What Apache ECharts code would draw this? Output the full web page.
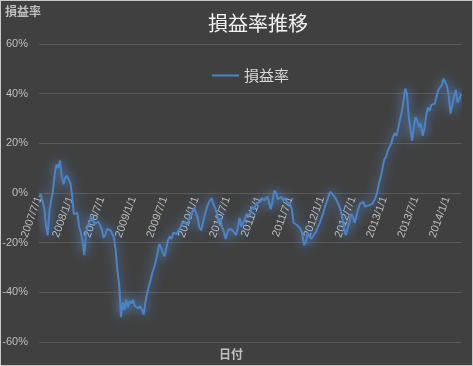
<!DOCTYPE html>
<html>
<head>
<meta charset="utf-8">
<script src="https://cdn.jsdelivr.net/npm/echarts@6/dist/echarts.min.js"></script>
<style>
html,body{margin:0;padding:0;background:#404040;}
#c{width:473px;height:366px;box-sizing:border-box;border:1px solid #c8c8c8;}
</style>
</head>
<body>
<div id="c"></div>
<script>
// Chart texts
const titleText = '損益率推移';
const seriesName = '損益率';
const yAxisTitle = '損益率';
const xAxisTitle = '日付';

// Y-axis ticks (percent)
const yMin = -60, yMax = 60, yStep = 20;

// Shown x tick labels
const xTickLabels = ['2007/7/1','2008/1/1','2008/7/1','2009/1/1','2009/7/1','2010/1/1','2010/7/1',
  '2011/1/1','2011/7/1','2012/1/1','2012/7/1','2013/1/1','2013/7/1','2014/1/1'];

// Dates (1st, 11th, 21st of each month, 2007/7/1 - 2014/3/21)
const dates = [];
for (let y = 2007; y <= 2014; y++) {
  for (let m = 1; m <= 12; m++) {
    if (y === 2007 && m < 7) continue;
    if (y === 2014 && m > 3) continue;
    for (const d of [1, 11, 21]) dates.push(y + '/' + m + '/' + d);
  }
}

// Profit/loss rate (%)
const values = [
  -1.5,-0.5,-1,-6,-13,-17,-7,-3,1,7.5,
  11.5,10,13,7,3.5,6,7,7.5,4,-1,
  -8.5,-9,-8,-13.5,-16,-19.5,-25,-16,-13,-11.5,
  -9.5,-10,-12.5,-13,-11.5,-12,-14.5,-18,-17,-14.5,
  -14,-15,-14.5,-18,-23.5,-31.5,-37,-50,-44,-47,
  -43,-46,-43.5,-44.5,-43,-45.5,-45,-46.5,-45.5,-47,
  -49,-44,-40.5,-37.5,-35,-32,-30,-27.5,-24,-20.5,
  -22,-24,-25.5,-25,-19,-17.5,-18.5,-16,-16.5,-16.5,
  -15,-14,-12,-11.5,-12,-13,-10.5,-9,-7.5,-6,
  -6.5,-10,-14,-15,-12,-9,-6.5,-4.5,-3,-2,
  -4.5,-6,-8,-12,-10,-14,-15.5,-18.5,-16,-14.5,
  -15,-15,-15.5,-17,-14,-10,-13.5,-12,-10.5,-8.5,
  -8,-9,-5.5,-6.5,-6.5,-4,-3.5,-3.5,-2,-3,
  -3,-1.5,-2,-6.5,-3,1,0,-2.5,-2,-1.5,
  -3,-2,-3.5,-4,-4.5,-6.5,-12,-11.5,-13,-13.5,
  -14.5,-16.5,-21,-20,-16,-17,-18.5,-17.5,-17.5,-15.5,
  -13.5,-12,-10,-8,-5.5,-3.5,-1.5,0.5,1,-1,
  -2,-3.5,-5,-7,-10,-14.5,-17,-14,-12,-8.5,
  -9.5,-12,-9.5,-6.5,-4.5,-5,-3.5,-5.5,-6,-5,
  -4.5,-4.5,-5,-2,0.5,4,6.5,10,13.5,14.5,
  17,18.5,20,22.5,24,23,26,29.5,32.5,37,
  42,40,31,25.5,21,27,30.5,29,26.5,28,
  23,26,31,34.5,33,35.5,36,36,39,41.5,
  42,43.5,46,45.5,43,39,32,35.5,39,41.5,
  36.5,37.5,40
];

const chart = echarts.init(document.getElementById('c'), null, {renderer: 'canvas'});
const fontFam = '"Liberation Sans", "Noto Sans CJK JP", sans-serif';
const cjkFont = '"Noto Sans CJK JP", "Liberation Sans", sans-serif';

chart.setOption({
  backgroundColor: '#404040',
  animation: false,
  title: {
    text: titleText,
    left: 252, top: 7, textAlign: 'center',
    textStyle: {color: '#f2f2f2', fontSize: 20, fontWeight: 'normal', fontFamily: cjkFont}
  },
  legend: {
    data: [{name: seriesName, icon: 'rect'}],
    left: 206, top: 62,
    itemWidth: 27, itemHeight: 2, itemGap: 4,
    textStyle: {color: '#d9d9d9', fontSize: 15, fontFamily: cjkFont}
  },
  graphic: [
    {type: 'text', left: 4, top: 4, style: {text: yAxisTitle, fill: '#bfbfbf', font: 'bold 12px ' + cjkFont}},
    {type: 'text', left: 218, top: 347, style: {text: xAxisTitle, fill: '#bfbfbf', font: 'bold 12px ' + cjkFont}}
  ],
  grid: {left: 38, right: 11, top: 43, bottom: 23, containLabel: false, outerBoundsMode: 'none'},
  xAxis: {
    type: 'category',
    data: dates,
    boundaryGap: false,
    position: 'bottom',
    offset: -150,
    axisLine: {show: false, onZero: false},
    axisTick: {show: false},
    splitLine: {show: false},
    axisLabel: {
      interval: function (idx, val) { return xTickLabels.indexOf(val) >= 0; },
      rotate: 70,
      margin: 5,
      color: '#bfbfbf',
      fontSize: 11,
      fontFamily: fontFam,
      hideOverlap: false
    }
  },
  yAxis: {
    type: 'value',
    min: yMin, max: yMax, interval: yStep,
    axisLine: {show: false},
    axisTick: {show: false},
    splitLine: {lineStyle: {color: '#5a5a5a', width: 1}},
    axisLabel: {formatter: '{value}%', color: '#bfbfbf', fontSize: 11, fontFamily: fontFam, margin: 11}
  },
  series: [{
    name: seriesName,
    type: 'line',
    data: values,
    symbol: 'none',
    smooth: false,
    lineStyle: {color: '#4a83c6', width: 2, shadowBlur: 12, shadowColor: 'rgba(100,160,240,0.95)'},
    itemStyle: {color: '#4a83c6'}
  }]
});
</script>
</body>
</html>
